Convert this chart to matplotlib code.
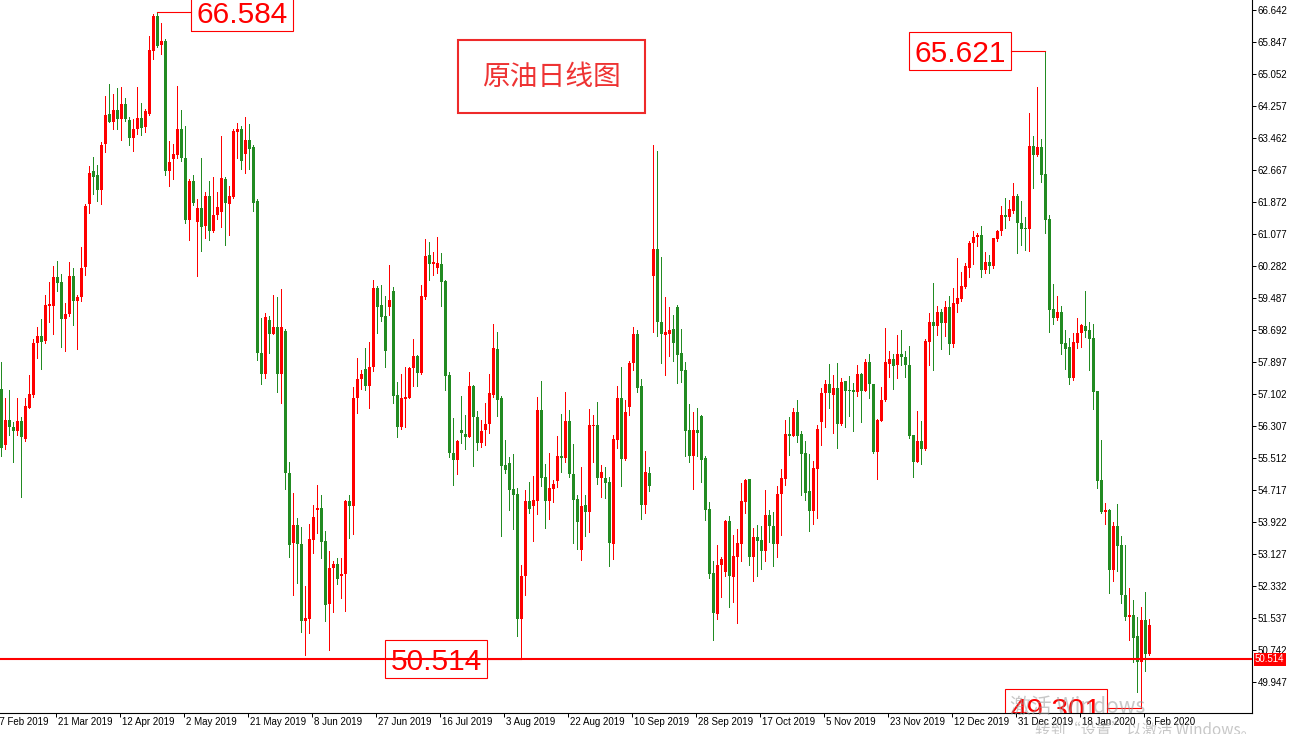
import matplotlib
matplotlib.use('Agg')
import matplotlib.pyplot as plt
from matplotlib.patches import Rectangle
from matplotlib.lines import Line2D
from matplotlib.transforms import Affine2D, blended_transform_factory, offset_copy
import numpy as np

# daily candles of crude oil, bar 0 .. 287
opens = [
    57.23, 55.83, 56.46, 56.28, 56.19, 56.43, 55.99, 56.75, 57.08, 58.36,
    58.53, 58.43, 59.30, 59.30, 60.02, 59.88, 58.97, 59.09, 60.03, 59.42,
    59.52, 60.25, 61.81, 62.64, 62.53, 62.17, 63.32, 64.06, 63.87, 64.16,
    63.93, 64.31, 63.91, 63.47, 63.69, 63.96, 63.74, 64.05, 65.63, 66.50,
    65.76, 65.86, 62.65, 62.94, 63.05, 63.68, 62.96, 61.43, 62.39, 61.38,
    61.72, 61.27, 62.01, 61.14, 61.56, 61.62, 62.45, 61.83, 61.99, 63.62,
    63.68, 63.07, 63.41, 63.25, 61.90, 58.13, 57.59, 58.94, 58.60, 58.76,
    57.59, 58.67, 55.13, 53.41, 53.84, 53.37, 51.47, 51.51, 53.48, 54.22,
    54.27, 53.45, 51.88, 52.79, 52.88, 52.59, 52.62, 54.44, 54.33, 56.99,
    57.47, 57.72, 57.31, 57.78, 59.73, 59.31, 59.04, 59.27, 59.66, 57.08,
    56.29, 56.98, 57.01, 57.74, 58.05, 57.63, 59.52, 60.56, 60.32, 60.24,
    60.32, 59.92, 57.57, 55.63, 55.45, 56.21, 56.11, 56.04, 57.30, 56.54,
    55.88, 56.21, 56.36, 57.08, 58.22, 57.01, 55.34, 55.39, 54.75, 54.62,
    51.50, 52.57, 54.45, 54.31, 54.45, 56.71, 55.04, 54.45, 54.75, 54.95,
    55.56, 55.52, 56.43, 55.12, 54.49, 53.22, 54.34, 54.18, 56.30, 56.33,
    55.02, 55.02, 54.92, 53.38, 55.96, 56.99, 55.49, 56.79, 57.86, 58.60,
    57.29, 54.35, 55.14, 60.04, 60.71, 58.89, 58.57, 58.59, 58.72, 59.26,
    58.11, 57.70, 56.21, 55.57, 56.21, 56.56, 55.50, 54.24, 52.65, 51.63,
    52.85, 52.69, 53.95, 52.56, 53.06, 53.38, 54.43, 54.99, 53.04, 53.54,
    53.48, 53.21, 54.10, 53.82, 53.38, 54.62, 54.99, 56.11, 56.06, 56.65,
    56.11, 55.64, 54.68, 54.20, 55.24, 56.41, 57.12, 57.35, 57.08, 57.24,
    56.35, 57.42, 57.20, 57.20, 57.16, 57.60, 57.18, 57.89, 57.34, 55.67,
    56.44, 56.94, 57.85, 57.97, 57.81, 58.10, 58.03, 57.82, 56.08, 55.42,
    55.93, 55.74, 58.40, 58.90, 58.79, 59.15, 58.87, 59.26, 58.34, 59.34,
    59.46, 59.75, 60.24, 60.85, 60.99, 61.04, 60.17, 60.37, 60.27, 60.95,
    61.14, 61.54, 61.51, 61.66, 62.01, 61.36, 61.23, 61.19, 63.26, 63.03,
    63.24, 62.56, 61.46, 59.21, 58.99, 59.14, 58.37, 58.27, 57.49, 58.37,
    58.61, 58.79, 58.69, 58.49, 57.17, 54.97, 54.17, 54.22, 52.73, 53.82,
    53.35, 52.11, 51.55, 51.61, 51.08, 50.45, 51.48, 50.63,
]
highs = [
    57.90, 57.01, 57.20, 56.41, 57.01, 56.54, 57.01, 57.57, 58.48, 58.77,
    58.97, 59.56, 59.89, 60.29, 60.41, 60.08, 59.37, 60.39, 60.24, 59.56,
    60.76, 61.82, 62.77, 63.00, 62.80, 63.36, 64.51, 64.80, 64.55, 64.70,
    64.73, 64.46, 63.99, 63.94, 64.73, 64.34, 64.17, 66.00, 66.55, 66.584,
    66.31, 65.93, 63.39, 63.32, 64.75, 64.15, 63.75, 62.45, 62.55, 61.95,
    62.96, 62.12, 62.39, 62.49, 62.12, 63.51, 62.49, 62.28, 63.68, 63.84,
    63.77, 63.98, 63.81, 63.28, 61.95, 58.99, 59.11, 59.03, 59.57, 59.51,
    59.71, 58.72, 55.40, 54.65, 54.02, 53.80, 52.33, 53.86, 54.35, 54.85,
    54.58, 53.71, 53.20, 52.95, 53.02, 53.02, 54.46, 54.59, 57.28, 58.00,
    57.70, 58.25, 58.39, 59.93, 59.79, 59.81, 59.54, 60.31, 59.77, 57.41,
    57.60, 57.78, 57.78, 58.47, 58.07, 59.81, 60.95, 60.87, 60.62, 61.01,
    60.60, 59.93, 57.64, 56.50, 55.96, 57.05, 56.58, 57.64, 57.33, 56.68,
    56.46, 56.87, 57.60, 58.83, 58.63, 57.06, 55.96, 55.53, 55.62, 54.76,
    52.86, 54.72, 54.92, 55.06, 57.03, 57.43, 55.36, 55.64, 54.96, 56.05,
    56.60, 57.16, 56.71, 55.86, 54.59, 55.28, 54.58, 56.73, 56.58, 56.90,
    55.34, 55.28, 55.04, 56.09, 57.31, 57.78, 56.96, 57.91, 58.77, 58.70,
    57.48, 55.69, 55.28, 63.29, 63.15, 60.51, 59.52, 59.27, 59.06, 59.31,
    58.71, 57.90, 56.85, 56.65, 56.76, 56.58, 55.56, 54.43, 52.94, 53.35,
    53.04, 53.97, 54.07, 53.60, 53.75, 54.90, 54.98, 55.00, 53.78, 53.85,
    53.81, 54.72, 54.22, 54.18, 54.82, 55.24, 56.46, 56.54, 56.76, 56.95,
    56.17, 55.93, 55.61, 55.44, 56.33, 57.26, 57.45, 57.85, 57.57, 57.86,
    57.49, 57.43, 57.55, 57.37, 57.81, 57.63, 57.96, 58.09, 57.35, 56.47,
    57.28, 58.75, 58.18, 58.10, 58.57, 58.69, 58.17, 58.29, 56.09, 56.68,
    56.43, 58.47, 59.12, 59.87, 59.29, 59.21, 59.41, 59.54, 59.73, 60.49,
    60.14, 60.36, 60.91, 61.14, 61.09, 61.28, 60.62, 60.56, 60.98, 61.18,
    61.76, 61.96, 61.91, 62.34, 62.06, 61.89, 61.51, 64.08, 63.51, 64.73,
    63.43, 65.621, 61.54, 59.83, 59.53, 59.28, 58.69, 58.49, 58.61, 58.99,
    58.83, 59.66, 58.89, 58.83, 57.17, 55.95, 54.40, 54.24, 53.92, 54.37,
    53.57, 53.35, 52.28, 51.98, 51.55, 51.80, 52.18, 51.50,
]
lows = [
    55.57, 55.73, 56.08, 55.42, 56.08, 54.53, 55.94, 56.75, 57.02, 58.00,
    57.73, 58.38, 58.90, 58.58, 59.67, 58.28, 58.18, 59.04, 58.82, 58.21,
    59.42, 60.07, 61.61, 62.06, 61.90, 61.83, 63.12, 63.85, 63.69, 63.69,
    63.40, 63.88, 63.29, 63.15, 63.57, 63.54, 63.62, 64.03, 65.42, 65.71,
    65.56, 62.54, 62.27, 62.45, 62.96, 62.89, 61.36, 60.93, 61.79, 60.04,
    60.66, 60.97, 60.93, 61.13, 61.45, 61.26, 60.81, 61.06, 61.97, 62.96,
    62.69, 62.60, 62.69, 61.65, 57.95, 57.34, 57.50, 58.13, 58.60, 57.14,
    56.88, 54.73, 53.06, 52.11, 52.41, 51.20, 50.61, 51.17, 53.16, 53.66,
    53.03, 51.47, 50.73, 51.69, 52.38, 52.04, 51.72, 53.52, 53.62, 56.64,
    57.23, 57.20, 56.76, 57.68, 58.61, 58.92, 57.76, 59.07, 56.87, 56.04,
    56.22, 56.29, 56.99, 57.31, 57.31, 57.60, 59.46, 59.93, 60.06, 60.10,
    59.29, 57.19, 55.53, 54.84, 55.11, 55.88, 55.74, 56.03, 55.32, 55.71,
    55.79, 55.84, 56.13, 57.02, 56.56, 53.58, 55.15, 54.23, 53.75, 51.10,
    50.514, 52.10, 54.15, 53.46, 54.12, 54.81, 53.78, 53.99, 54.42, 54.79,
    55.17, 55.41, 55.04, 53.41, 53.25, 52.97, 53.58, 53.68, 55.42, 54.87,
    54.55, 54.52, 52.84, 53.01, 55.75, 54.82, 55.47, 56.58, 57.70, 57.14,
    53.99, 54.15, 54.68, 58.63, 58.53, 57.86, 57.57, 58.05, 57.93, 57.38,
    57.41, 55.55, 55.42, 54.74, 55.56, 54.92, 53.97, 52.54, 50.99, 51.51,
    52.05, 52.58, 51.82, 51.94, 51.40, 52.96, 54.14, 52.85, 52.46, 52.58,
    52.75, 52.94, 53.43, 52.84, 53.04, 53.60, 54.84, 55.59, 56.06, 55.92,
    54.59, 54.47, 53.71, 53.87, 54.02, 55.83, 56.29, 56.75, 56.13, 55.77,
    56.33, 56.27, 56.56, 56.19, 57.04, 56.41, 57.17, 57.01, 55.64, 54.98,
    56.43, 56.93, 57.52, 57.22, 57.49, 57.81, 57.52, 56.00, 55.03, 55.41,
    55.35, 55.71, 57.82, 57.70, 58.57, 58.22, 58.53, 58.10, 58.28, 59.15,
    59.42, 59.73, 60.02, 60.32, 60.78, 60.02, 60.10, 60.10, 60.24, 60.91,
    61.06, 61.23, 61.43, 61.61, 60.61, 60.81, 60.68, 60.66, 62.23, 63.01,
    62.36, 61.09, 58.64, 58.84, 58.94, 58.10, 57.72, 57.35, 57.44, 58.25,
    58.26, 58.52, 57.70, 56.74, 54.77, 54.14, 53.87, 52.15, 52.46, 52.71,
    51.91, 51.48, 50.98, 50.45, 49.71, 49.301, 50.23, 50.61,
]
closes = [
    55.75, 56.46, 56.29, 56.19, 56.43, 56.04, 56.80, 57.10, 58.38, 58.54,
    58.40, 59.31, 59.32, 60.02, 59.87, 58.96, 59.09, 60.03, 59.40, 59.51,
    60.22, 61.78, 62.59, 62.50, 62.17, 63.29, 64.03, 63.87, 64.16, 63.93,
    64.31, 63.93, 63.47, 63.68, 63.96, 63.72, 64.12, 65.65, 66.50, 65.75,
    65.86, 62.65, 62.87, 63.07, 63.68, 62.96, 61.43, 62.39, 61.85, 61.72,
    61.26, 62.01, 61.15, 61.56, 61.75, 62.46, 61.85, 62.01, 63.64, 63.68,
    62.90, 63.41, 63.19, 61.85, 58.13, 57.59, 59.01, 58.60, 58.76, 57.61,
    58.76, 55.13, 53.34, 53.84, 53.37, 51.45, 51.54, 53.50, 54.05, 54.27,
    53.43, 51.87, 52.79, 52.87, 52.50, 52.63, 54.44, 54.33, 56.99, 57.48,
    57.59, 57.31, 57.78, 59.73, 59.27, 59.02, 58.18, 59.44, 57.04, 56.29,
    56.99, 57.02, 57.74, 58.05, 57.62, 59.54, 60.53, 60.32, 60.37, 60.35,
    59.89, 57.56, 55.63, 55.45, 55.93, 56.13, 56.04, 57.30, 56.54, 55.88,
    56.19, 56.36, 57.12, 58.25, 56.96, 55.32, 55.22, 54.72, 54.59, 51.50,
    52.58, 54.45, 54.25, 54.46, 56.71, 55.02, 54.45, 54.76, 54.87, 55.56,
    55.52, 56.43, 55.12, 54.48, 53.91, 54.32, 54.18, 56.33, 56.33, 55.02,
    55.17, 54.89, 53.41, 55.99, 56.99, 55.49, 56.66, 57.87, 58.60, 57.26,
    54.35, 55.17, 54.82, 60.71, 58.89, 58.59, 58.63, 58.69, 58.38, 58.07,
    57.68, 56.19, 55.57, 56.21, 56.14, 55.46, 54.22, 52.63, 51.65, 52.85,
    52.99, 53.95, 52.59, 53.08, 53.41, 54.44, 54.97, 53.04, 53.54, 53.45,
    53.21, 54.10, 53.81, 53.38, 54.62, 55.02, 56.11, 56.06, 56.65, 56.07,
    55.61, 54.65, 54.20, 55.27, 56.23, 57.13, 57.35, 57.12, 57.24, 56.35,
    57.39, 57.18, 57.18, 57.16, 57.60, 57.18, 57.89, 57.34, 55.67, 56.46,
    56.95, 57.89, 57.97, 57.80, 58.10, 58.01, 57.81, 56.06, 55.42, 55.93,
    55.74, 58.43, 58.90, 58.79, 59.15, 58.87, 59.26, 58.34, 59.35, 59.48,
    59.79, 60.27, 60.86, 60.99, 61.04, 60.17, 60.37, 60.27, 60.97, 61.15,
    61.54, 61.51, 61.69, 62.01, 61.36, 61.21, 61.19, 63.26, 63.03, 63.24,
    62.54, 61.43, 59.19, 58.99, 59.14, 58.35, 58.22, 57.50, 58.40, 58.61,
    58.81, 58.66, 58.46, 57.15, 54.95, 54.17, 54.22, 52.73, 53.82, 53.32,
    52.10, 51.55, 51.61, 51.05, 50.45, 51.48, 50.63, 51.35,
]

date_labels = ['27 Feb 2019', '21 Mar 2019', '12 Apr 2019', '2 May 2019', '21 May 2019',
               '8 Jun 2019', '27 Jun 2019', '16 Jul 2019', '3 Aug 2019', '22 Aug 2019',
               '10 Sep 2019', '28 Sep 2019', '17 Oct 2019', '5 Nov 2019', '23 Nov 2019',
               '12 Dec 2019', '31 Dec 2019', '18 Jan 2020', '6 Feb 2020']
price_ticks = [49.947, 50.742, 51.537, 52.332, 53.127, 53.922, 54.717, 55.512, 56.307,
               57.102, 57.897, 58.692, 59.487, 60.282, 61.077, 61.872, 62.667, 63.462,
               64.257, 65.052, 65.847, 66.642]

# price notes: (bar, price, side of the box)
notes = [(39, 66.584, 'right'), (261, 65.621, 'left'), (285, 49.301, 'left'), (130, 50.514, 'left')]
support_level = 50.514

UP = '#FF0000'
DOWN = '#228B22'
W, H = 1295, 734

fig = plt.figure(figsize=(W / 100, H / 100), dpi=100)
ax = fig.add_axes([0, 21 / H, 1252 / W, 713 / H])
ax.set_xlim(-0.325, 312.675)
ax.set_ylim(49.176, 66.890)

o = np.array(opens)
c = np.array(closes)
h = np.array(highs)
l = np.array(lows)
x = np.arange(len(o))
colors = np.where(c >= o, UP, DOWN)

# wicks then bodies
ax.vlines(x, l, h, colors=colors, linewidth=0.72, antialiased=False, zorder=2)
body_bottom = np.minimum(o, c)
body_height = np.maximum(np.abs(c - o), 0.025)
ax.bar(x, body_height, bottom=body_bottom, width=0.75, color=colors,
       linewidth=0, antialiased=False, zorder=2.5)

# support line
ax.axhline(support_level, color='red', linewidth=1.5, zorder=3)

# axes style
for side in ['top', 'left']:
    ax.spines[side].set_visible(False)
for side in ['right', 'bottom']:
    ax.spines[side].set_linewidth(0.8)
    ax.spines[side].set_color('black')

ax.yaxis.tick_right()
ax.set_yticks(price_ticks)
ax.set_yticklabels([f'{v:.3f}' for v in price_ticks])
ax.tick_params(axis='y', direction='out', length=3, width=0.72, labelsize=7, pad=1)
for t in ax.get_yticklabels():
    t.set_family('Liberation Sans')

tick_pos = np.arange(-2, len(o), 16) - 0.3
ax.set_xticks(tick_pos[1:])
ax.set_xticklabels([])
ax.tick_params(axis='x', direction='out', length=3, width=0.72)
xtrans = offset_copy(blended_transform_factory(ax.transData, ax.transAxes), fig=fig,
                     x=2, y=-4, units='dots')
for pos, lab in zip(tick_pos, date_labels):
    ax.text(pos, 0, lab, transform=xtrans, ha='left', va='top', fontsize=7,
            family='Liberation Sans', clip_on=False)

# price tag on the axis
ytrans = offset_copy(blended_transform_factory(ax.transAxes, ax.transData), fig=fig,
                     x=3, y=0, units='dots')
ax.text(1.0, support_level, f'{support_level:.3f}', transform=ytrans, ha='left', va='center',
        fontsize=7, color='white', family='Liberation Sans', clip_on=False,
        bbox=dict(boxstyle='square,pad=0.15', fc='red', ec='none'))

# boxed price notes
for bar, price, side in notes:
    px, py = ax.transData.transform((bar, price))
    t = Affine2D().translate(px, py)
    s = 1 if side == 'right' else -1
    x0 = 34 if side == 'right' else -136
    ax.add_patch(Rectangle((x0, -19), 102, 38, transform=t, fill=False,
                           ec='red', lw=0.8, zorder=4))
    ax.add_line(Line2D([0, s * 34], [0, 0], transform=t, color='red', lw=0.8, zorder=4))
    ax.text(s * 85, -11, f'{price:.3f}', transform=t, ha='center', va='baseline',
            color='red', fontsize=21.5, family='Liberation Sans', zorder=4, clip_on=True)

# title box
fig.add_artist(Rectangle((458 / W, 1 - 113 / H), 187 / W, 73 / H, transform=fig.transFigure,
                         fill=False, ec='#EE2A2A', lw=1.5))
fig.text(551.5 / W, 1 - 77 / H, '原油日线图', ha='center', va='center', fontsize=20,
         color='#EE3333', family=['Noto Sans CJK SC', 'DejaVu Sans'])

# windows watermark
fig.text(1010 / W, 1 - 707 / H, '激活 Windows', ha='left', va='center', fontsize=15,
         color='#9A9A9A', alpha=0.55, family=['Noto Sans CJK SC', 'DejaVu Sans'])
fig.text(1035 / W, 1 - 730 / H, '转到“设置”以激活 Windows。', ha='left', va='center', fontsize=11,
         color='#9A9A9A', alpha=0.55, family=['Noto Sans CJK SC', 'DejaVu Sans'])

fig.savefig('out.png', dpi=100)
